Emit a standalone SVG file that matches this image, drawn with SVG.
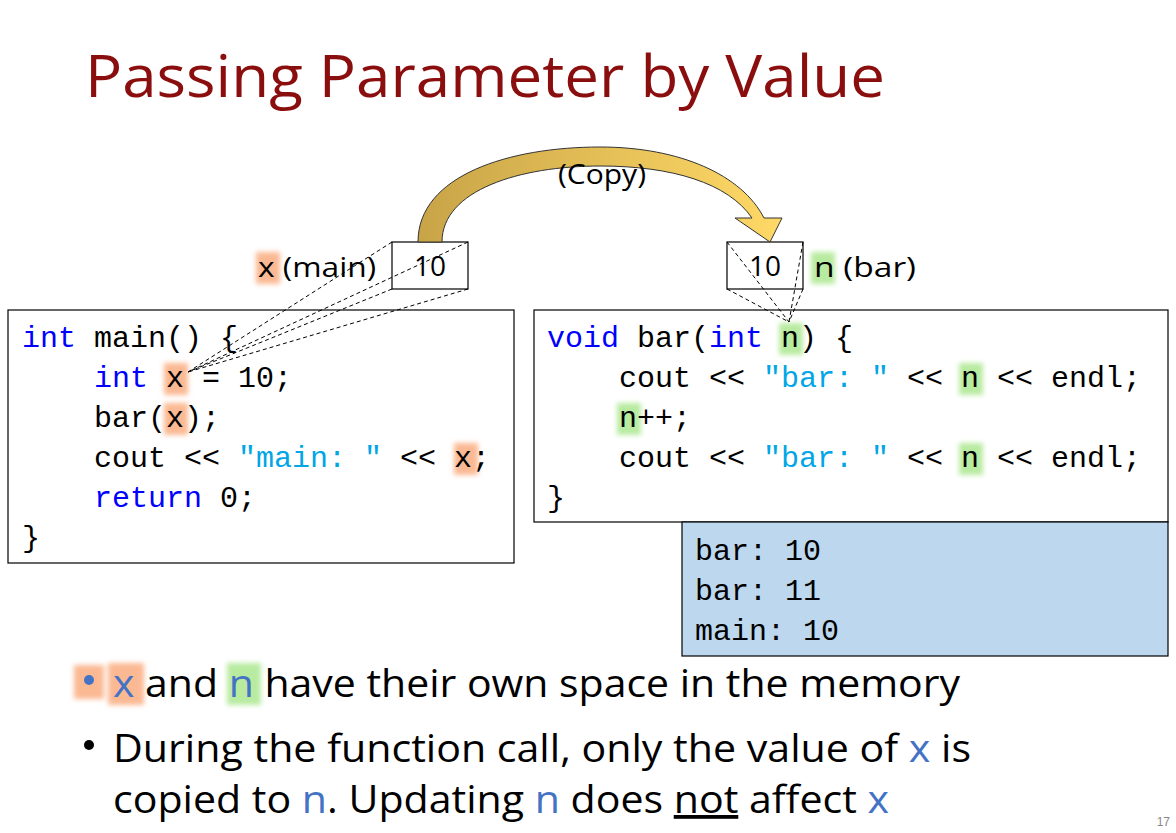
<svg xmlns="http://www.w3.org/2000/svg" width="1176" height="833" viewBox="0 0 1176 833">
<style>
.code{font-family:"Liberation Mono","DejaVu Sans Mono",monospace;font-size:30px;fill:#000;white-space:pre}
.kw{fill:#0000ff}.str{fill:#00a6e6}
.sans{font-family:"Open Sans","Liberation Sans",sans-serif}
.box{fill:#fff;stroke:#000;stroke-width:1.2}
.dash{stroke:#000;stroke-width:1;stroke-dasharray:4 3;fill:none}
.blue{fill:#4472c4}
.ho{fill:#fbb993}.hg{fill:#b8eba0}
</style>
<defs>
<filter id="blur" x="-50%" y="-50%" width="200%" height="200%"><feGaussianBlur stdDeviation="2.5"/></filter>
<linearGradient id="g" x1="0" y1="0" x2="1" y2="0"><stop offset="0" stop-color="#c8a448"/><stop offset="1" stop-color="#ffd966"/></linearGradient>
</defs>
<rect width="1176" height="833" fill="#fff"/>
<text x="85" y="97" font-family="Open Sans, Liberation Sans, sans-serif" font-size="58" fill="#8b0e0e" textLength="800" lengthAdjust="spacingAndGlyphs">Passing Parameter by Value</text>

<g id="main-box">
<rect class="box" x="8" y="310" width="506" height="253"/>
<g filter="url(#blur)">
<rect class="ho" x="164" y="363" width="24" height="32"/>
<rect class="ho" x="164" y="403" width="24" height="32"/>
<rect class="ho" x="454" y="443" width="24" height="32"/>
</g>
<text class="code" x="22" y="347"><tspan class="kw">int</tspan> main() {</text>
<text class="code" x="22" y="387">    <tspan class="kw">int</tspan> x = 10;</text>
<text class="code" x="22" y="427">    bar(x);</text>
<text class="code" x="22" y="467">    cout &lt;&lt; <tspan class="str">"main: "</tspan> &lt;&lt; x;</text>
<text class="code" x="22" y="507">    <tspan class="kw">return</tspan> 0;</text>
<text class="code" x="22" y="547">}</text>
</g>

<g id="bar-box">
<rect class="box" x="534" y="310" width="634" height="212"/>
<g filter="url(#blur)">
<rect class="hg" x="779" y="323" width="24" height="32"/>
<rect class="hg" x="959" y="363" width="24" height="32"/>
<rect class="hg" x="617" y="403" width="24" height="32"/>
<rect class="hg" x="959" y="443" width="24" height="32"/>
</g>
<text class="code" x="547" y="347"><tspan class="kw">void</tspan> bar(<tspan class="kw">int</tspan> n) {</text>
<text class="code" x="547" y="387">    cout &lt;&lt; <tspan class="str">"bar: "</tspan> &lt;&lt; n &lt;&lt; endl;</text>
<text class="code" x="547" y="427">    n++;</text>
<text class="code" x="547" y="467">    cout &lt;&lt; <tspan class="str">"bar: "</tspan> &lt;&lt; n &lt;&lt; endl;</text>
<text class="code" x="547" y="507">}</text>
</g>

<g id="output">
<rect x="682" y="522" width="486" height="134" fill="#bdd7ee" stroke="#000" stroke-width="1.2"/>
<text class="code" x="695" y="560">bar: 10</text>
<text class="code" x="695" y="600">bar: 11</text>
<text class="code" x="695" y="640">main: 10</text>
</g>

<g id="mem-x">
<rect class="ho" x="256" y="252" width="24" height="32" filter="url(#blur)"/>
<rect class="box" x="392" y="242" width="76" height="47"/>
<text class="sans" x="430" y="276" font-size="28" text-anchor="middle">10</text>
<text class="sans" x="258" y="277" font-size="28" textLength="118" lengthAdjust="spacingAndGlyphs">x (main)</text>
</g>
<g id="mem-n">
<rect class="hg" x="811" y="252" width="24" height="32" filter="url(#blur)"/>
<rect class="box" x="727" y="242" width="76" height="47"/>
<text class="sans" x="765" y="276" font-size="28" text-anchor="middle">10</text>
<text class="sans" x="814" y="277" font-size="28" textLength="102" lengthAdjust="spacingAndGlyphs">n (bar)</text>
</g>

<g id="connectors">
<line class="dash" x1="392" y1="242" x2="188" y2="372"/>
<line class="dash" x1="468" y1="242" x2="188" y2="372"/>
<line class="dash" x1="392" y1="289" x2="188" y2="372"/>
<line class="dash" x1="468" y1="289" x2="188" y2="372"/>
<line class="dash" x1="727" y1="242" x2="789" y2="322"/>
<line class="dash" x1="803" y1="242" x2="789" y2="322"/>
<line class="dash" x1="727" y1="289" x2="789" y2="322"/>
<line class="dash" x1="803" y1="289" x2="789" y2="322"/>
<path d="M418,242 C418,175 510,147 600,147 C680,147 742,175 764,218 L782,218 L770,242 L735,218 L752,218 C728,183 672,166 600,166 C520,166 442,190 442,242 Z" fill="url(#g)" stroke="#333" stroke-width="1"/>
<text class="sans" x="602" y="184" font-size="27" text-anchor="middle" textLength="88" lengthAdjust="spacingAndGlyphs">(Copy)</text>
</g>

<g id="bullets" class="sans" font-size="38">
<g filter="url(#blur)">
<rect class="ho" x="74" y="665" width="30" height="34"/>
<rect class="ho" x="108" y="663" width="36" height="42"/>
<rect class="hg" x="227" y="663" width="34" height="42"/>
</g>
<circle cx="89" cy="680" r="5" fill="#4472c4"/>
<text x="113" y="697" textLength="847" lengthAdjust="spacingAndGlyphs"><tspan class="blue">x</tspan> and <tspan class="blue">n</tspan> have their own space in the memory</text>
<circle cx="89" cy="745" r="5" fill="#000"/>
<text x="113" y="762" textLength="858" lengthAdjust="spacingAndGlyphs">During the function call, only the value of <tspan class="blue">x</tspan> is</text>
<text x="113" y="813" textLength="776" lengthAdjust="spacingAndGlyphs">copied to <tspan class="blue">n</tspan>. Updating <tspan class="blue">n</tspan> does <tspan text-decoration="underline">not</tspan> affect <tspan class="blue">x</tspan></text>
</g>
<text x="1170" y="826" font-family="Liberation Sans, sans-serif" font-size="12" fill="#888" text-anchor="end">17</text>
</svg>
